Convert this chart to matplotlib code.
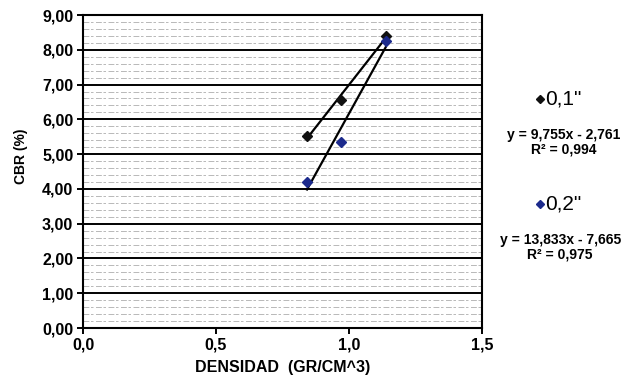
import matplotlib.pyplot as plt
import numpy as np
from matplotlib.ticker import FuncFormatter

plt.rcParams["font.family"] = ["Liberation Sans", "DejaVu Sans"]

# CBR test results vs. dry density
densidad = [0.842, 0.969, 1.138]
cbr_01 = [5.53, 6.56, 8.40]
cbr_02 = [4.20, 5.36, 8.24]

# trend lines reported for each penetration
fit_01 = (9.755, -2.761, 0.994)
fit_02 = (13.833, -7.665, 0.975)

x_ticks = [0.0, 0.5, 1.0, 1.5]
y_ticks = [0, 1, 2, 3, 4, 5, 6, 7, 8, 9]


def coma(v, decimals):
    return f"{v:.{decimals}f}".replace(".", ",")


def eq_text(fit):
    m, b, r2 = fit
    sign = "-" if b < 0 else "+"
    return f"y = {coma(m, 3)}x {sign} {coma(abs(b), 3)}\nR² = {coma(r2, 3)}"


fig = plt.figure(figsize=(6.41, 3.85), dpi=100)
ax = fig.add_axes([0.1295, 0.148, 0.6225, 0.813])
ax.set_xlim(0, 1.5)
ax.set_ylim(0, 9)

# fine dashed shading inside the plot area
for yy in np.arange(0.2, 9, 0.2):
    if abs(yy - round(yy)) < 0.05:
        continue
    ax.axhline(yy, color="#adadad", lw=0.6, ls=(0, (7, 2, 3, 3)), zorder=0)

for yy in y_ticks[1:-1]:
    ax.axhline(yy, color="black", lw=1.4, zorder=1)

colors = {"01": "#111111", "02": "#1c2a8c"}
for ys, fit, c in [(cbr_01, fit_01, colors["01"]), (cbr_02, fit_02, colors["02"])]:
    xs = np.array([min(densidad), max(densidad)])
    ax.plot(xs, fit[0] * xs + fit[1], color="black", lw=1.6, zorder=3)
    ax.plot(densidad, ys, ls="none", marker="D", ms=5.5, color=c, zorder=4)

for s in ax.spines.values():
    s.set_linewidth(1.5)

ax.set_xticks(x_ticks)
ax.set_yticks(y_ticks)
ax.xaxis.set_major_formatter(FuncFormatter(lambda v, p: coma(v, 1)))
ax.yaxis.set_major_formatter(FuncFormatter(lambda v, p: coma(v, 2)))
ax.tick_params(direction="out", length=4, width=1.4, labelsize=11.5, pad=3)
for lab in ax.get_xticklabels() + ax.get_yticklabels():
    lab.set_fontweight("bold")

ax.set_xlabel("DENSIDAD  (GR/CM^3)", fontsize=11.5, fontweight="bold", labelpad=5)
ax.set_ylabel("CBR (%)", fontsize=10, fontweight="bold")
ax.yaxis.set_label_coords(-0.137, 0.55)

# series labels with the regression results
for label, fit, c, y_head, y_eq, x_eq in [
    ("0,1\"", fit_01, colors["01"], 99, 142, 0.879),
    ("0,2\"", fit_02, colors["02"], 204, 247, 0.874),
]:
    fig.lines.append(plt.Line2D([0.842], [1 - y_head / 385], marker="D", ms=4.5, color=c,
                                transform=fig.transFigure))
    fig.text(0.850, 1 - y_head / 385, label, fontsize=15, ha="left", va="center")
    fig.text(x_eq, 1 - y_eq / 385, eq_text(fit), fontsize=10, fontweight="bold",
             ha="center", va="center", linespacing=1.05)

fig.savefig("out.png", dpi=100)
